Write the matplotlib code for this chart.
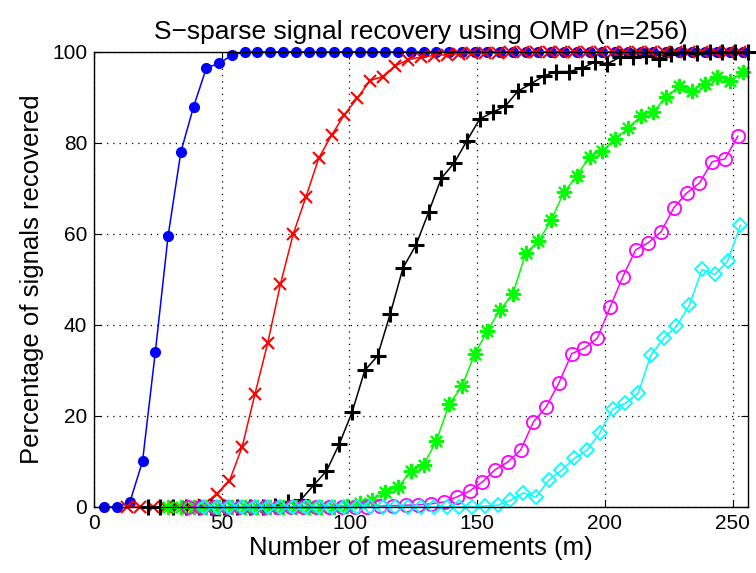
import numpy as np
import matplotlib
matplotlib.use("Agg")
import matplotlib.pyplot as plt

plt.rcParams['font.family'] = ['Liberation Sans', 'DejaVu Sans']

# measurement counts for each sparsity level (step of 5)
m_blue = np.arange(4, 255, 5)
m_red = np.arange(13, 254, 5)
m_black = np.arange(21, 257, 5)
m_green = np.arange(29, 255, 5)
m_magenta = np.arange(37, 253, 5)
m_cyan = np.arange(43, 254, 5)

# percentage of recovered signals
pct_blue = [0, 0, 1, 10, 34, 59.5, 78, 88, 96.5, 97.5, 99.3, 100,
            100, 100, 100, 100, 100, 100, 100, 100, 100, 100, 100, 100,
            100, 100, 100, 100, 100, 100, 100, 100, 100, 100, 100, 100,
            100, 100, 100, 100, 100, 100, 100, 100, 100, 100, 100, 100,
            100, 100, 100]
pct_red = [0, 0, 0, 0, 0, 0, 0.5, 2.9, 5.7, 13.2, 24.8, 36, 49, 60,
           68.2, 76.7, 81.7, 86.2, 89.8, 93.7, 94.6, 97, 98.3, 98.9, 99.2,
           99.4, 99.6, 99.7, 99.8, 99.8, 99.9, 100, 100, 100, 100, 100,
           100, 100, 100, 100, 100, 100, 100, 100, 100, 100, 100, 100, 100]
pct_black = [0, 0, 0, 0, 0, 0, 0, 0, 0, 0, 0.3,
             1.0, 1.6, 4.8, 7.9, 13.8, 20.8, 30, 33.2, 42.5, 52.6,
             57.5, 64.8, 72.3, 75.6, 80.5, 85.3, 86.7, 88.1, 91.4, 93,
             94.7, 95.7, 95.7, 96.4, 97.8, 97.4, 98.9, 98.9, 99.2, 98.5,
             99.6, 100, 99.7, 100, 100, 100, 100]
pct_green = [0, 0, 0, 0, 0, 0, 0, 0, 0, 0, 0, 0, 0, 0.1, 0.3,
             0.8, 1.6, 3.3, 4.3, 7.9, 9.2, 14.5, 22.6, 26.5, 33.6,
             38.7, 43.4, 46.9, 55.8, 58.4, 63.1, 69.2, 72.8, 77, 78.3,
             80.9, 83.2, 85.9, 86.9, 90.1, 92.5, 91.5, 93, 94.5, 93.7, 95.6]
pct_magenta = [0, 0, 0, 0, 0, 0, 0, 0, 0, 0, 0, 0, 0, 0, 0, 0.2, 0.3,
               0.4, 0.5, 0.7, 1.1, 2.2, 3.5, 5.5, 8.2, 9.9, 12.5, 18.7,
               22, 27.3, 33.7, 34.9, 37.1, 43.9, 50.6, 56.5, 58.1, 60.5,
               65.8, 69, 71.2, 75.9, 76.5, 81.5]
pct_cyan = [0, 0, 0, 0, 0, 0, 0, 0, 0, 0, 0, 0, 0, 0, 0, 0, 0, 0, 0, 0,
            0, 0, 0.2, 0.4, 1.5, 3.1, 2.2, 5.9, 8.1, 10.7, 12.5, 16.3,
            21.5, 22.8, 25, 33.4, 37.1, 39.7, 44.3, 52.2, 51.1, 54, 61.9]

fig = plt.figure(figsize=(7.56, 5.73), dpi=100)
ax = fig.add_axes([0.1243, 0.1152, 0.8651, 0.7941])

# matlab-style asterisk: eight spokes
asterisk = (8, 2, 0)

ax.plot(m_blue, pct_blue, '-o', color='b', lw=1.1, ms=7, clip_on=False)
ax.plot(m_red, pct_red, '-x', color='r', lw=1.1, ms=8, mew=1.5,
        clip_on=False)
ax.plot(m_black, pct_black, '-+', color='k', lw=1.1, ms=12, mew=2.2,
        clip_on=False)
ax.plot(m_green, pct_green, '-', color=(0, 1, 0), lw=1.1, marker=asterisk,
        ms=11, mew=1.6, clip_on=False)
ax.plot(m_magenta, pct_magenta, '-o', color=(1, 0, 1), lw=1.1, ms=9.5,
        mfc='none', mew=1.3, clip_on=False)
ax.plot(m_cyan, pct_cyan, '-D', color=(0, 1, 1), lw=1.1, ms=7.5,
        mfc='none', mew=1.3, clip_on=False)

ax.set_xlim(0, 256)
ax.set_ylim(0, 100)
ax.set_xticks([0, 50, 100, 150, 200, 250])
ax.set_yticks([0, 20, 40, 60, 80, 100])
ax.grid(True, linestyle=(0, (1, 4)), color='k', lw=0.9)
ax.set_axisbelow(True)
ax.tick_params(direction='in', top=True, right=True, labelsize=15,
               length=5, width=0.8, pad=5)
for s in ax.spines.values():
    s.set_linewidth(1.0)

ax.set_title('S\u2212sparse signal recovery using OMP (n=256)', fontsize=19,
             pad=9)
ax.set_xlabel('Number of measurements (m)', fontsize=18.5, labelpad=2)
ax.set_ylabel('Percentage of signals recovered', fontsize=18.5, labelpad=6)

fig.savefig('out.png', dpi=100)
